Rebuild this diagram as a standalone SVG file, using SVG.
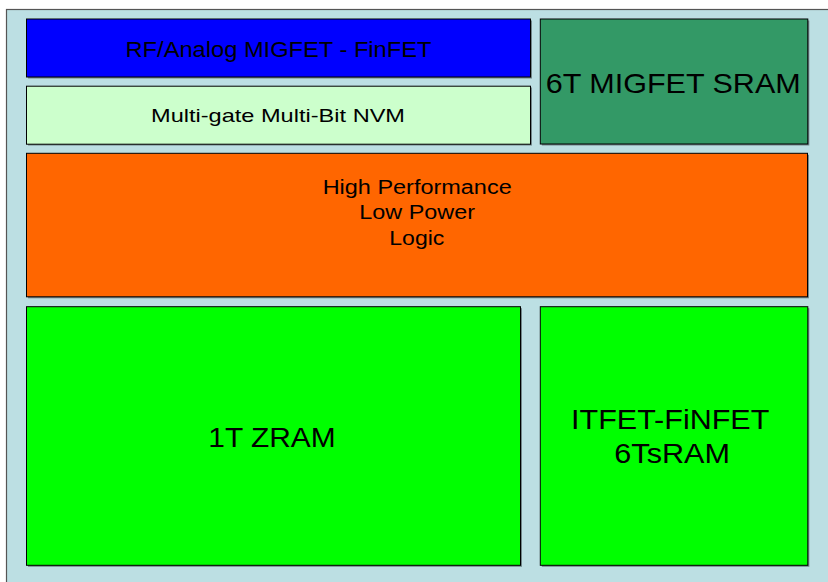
<svg xmlns="http://www.w3.org/2000/svg" width="828" height="582" viewBox="0 0 828 582">
  <style>
    .box { stroke: #000; stroke-width: 1; }
    .shadow { fill: #5a6a6e; opacity: 0.75; }
    .lbl { font-family: "Liberation Sans", Arial, sans-serif; fill: #000; text-anchor: middle; }
  </style>
  <rect x="0" y="0" width="828" height="582" fill="#fff"/>
  <!-- backdrop panel -->
  <rect x="6.5" y="9.5" width="830" height="580" fill="#BCDFE3" stroke="#555" stroke-width="1.2"/>

  <g id="rf-analog">
    <rect class="shadow" x="28" y="20.5" width="504" height="58"/>
    <rect class="box" x="26.5" y="19" width="504" height="58" fill="#0000FF"/>
    <text class="lbl" x="278.5" y="57.3" font-size="21.5" textLength="306" lengthAdjust="spacingAndGlyphs">RF/Analog MIGFET - FinFET</text>
  </g>

  <g id="nvm">
    <rect class="shadow" x="28" y="87.5" width="504" height="58"/>
    <rect class="box" x="26.5" y="86.2" width="504" height="58" fill="#CCFFCC"/>
    <text class="lbl" x="278" y="122.3" font-size="18.5" textLength="254" lengthAdjust="spacingAndGlyphs">Multi-gate Multi-Bit NVM</text>
  </g>

  <g id="sram-6t">
    <rect class="shadow" x="541.8" y="20.5" width="267.5" height="125"/>
    <rect class="box" x="540.3" y="19" width="267.5" height="125" fill="#339966"/>
    <text class="lbl" x="673.2" y="93.3" font-size="28" textLength="255" lengthAdjust="spacingAndGlyphs">6T MIGFET SRAM</text>
  </g>

  <g id="logic">
    <rect class="shadow" x="28" y="154.8" width="781" height="143.5"/>
    <rect class="box" x="26.5" y="153.3" width="781" height="143.5" fill="#FF6600"/>
    <text class="lbl" x="417.2" y="194" font-size="19.5" textLength="189" lengthAdjust="spacingAndGlyphs">High Performance</text>
    <text class="lbl" x="417.2" y="219.3" font-size="19.5" textLength="115.7" lengthAdjust="spacingAndGlyphs">Low Power</text>
    <text class="lbl" x="416.8" y="245" font-size="19.5" textLength="55" lengthAdjust="spacingAndGlyphs">Logic</text>
  </g>

  <g id="zram">
    <rect class="shadow" x="28" y="308.2" width="494" height="258.6"/>
    <rect class="box" x="26.5" y="306.7" width="494" height="258.6" fill="#00FF00"/>
    <text class="lbl" x="272" y="446.7" font-size="27" textLength="127.4" lengthAdjust="spacingAndGlyphs">1T ZRAM</text>
  </g>

  <g id="itfet-sram">
    <rect class="shadow" x="541.8" y="308.2" width="267.5" height="258.6"/>
    <rect class="box" x="540.3" y="306.7" width="267.5" height="258.6" fill="#00FF00"/>
    <text class="lbl" x="670.2" y="429.3" font-size="27" textLength="198.3" lengthAdjust="spacingAndGlyphs">ITFET-FiNFET</text>
    <text class="lbl" x="672.2" y="463.3" font-size="27" textLength="115.7" lengthAdjust="spacingAndGlyphs">6TsRAM</text>
  </g>
</svg>
